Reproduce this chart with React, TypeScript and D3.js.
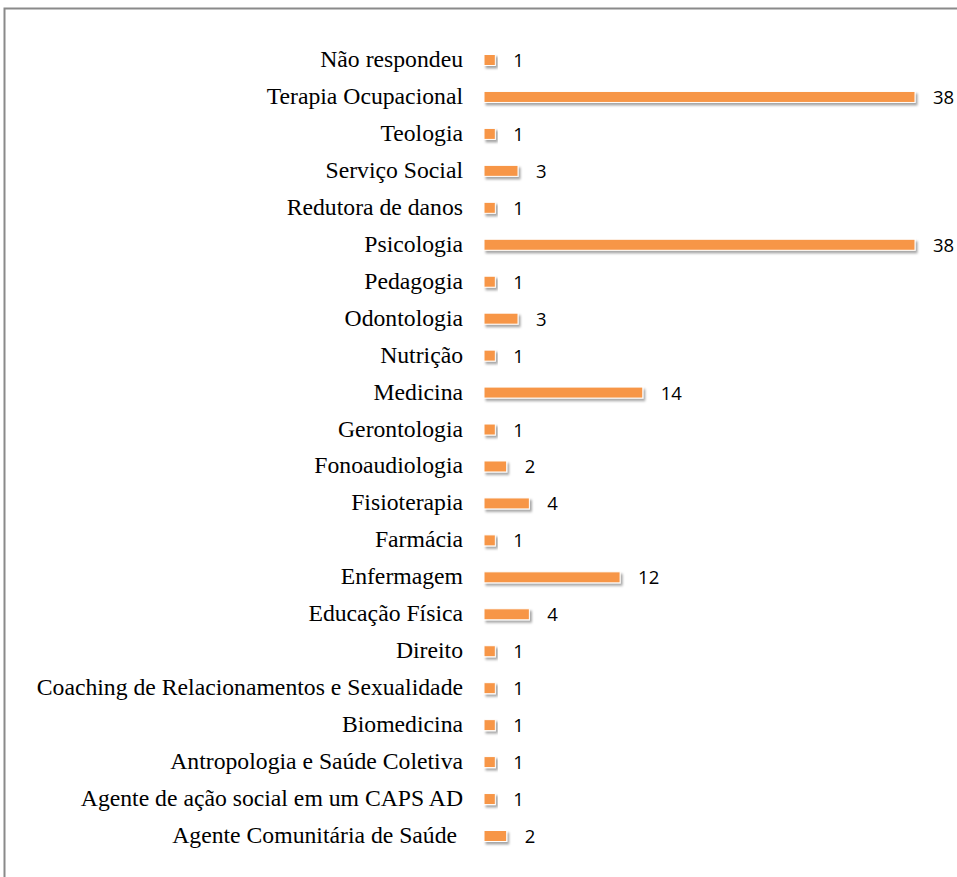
import React from "react";
import * as d3 from "d3";

const categories = [
  "Não respondeu",
  "Terapia Ocupacional",
  "Teologia",
  "Serviço Social",
  "Redutora de danos",
  "Psicologia",
  "Pedagogia",
  "Odontologia",
  "Nutrição",
  "Medicina",
  "Gerontologia",
  "Fonoaudiologia",
  "Fisioterapia",
  "Farmácia",
  "Enfermagem",
  "Educação Física",
  "Direito",
  "Coaching de Relacionamentos e Sexualidade",
  "Biomedicina",
  "Antropologia e Saúde Coletiva",
  "Agente de ação social em um CAPS AD",
  "Agente Comunitária de Saúde ",
];

const values = [1, 38, 1, 3, 1, 38, 1, 3, 1, 14, 1, 2, 4, 1, 12, 4, 1, 1, 1, 1, 1, 2];

const W = 957;
const H = 877;

export default function App() {
  const x = d3.scaleLinear().domain([0, 38]).range([484, 915]);
  const y = d3.scalePoint<string>().domain(categories).range([60, 836]);
  const barH = 11;

  return (
    <svg
      width={W}
      height={H}
      style={{ position: "absolute", left: 0, top: 0, background: "#fff" }}
    >
      <defs>
        <filter id="sh" x="-20%" y="-50%" width="140%" height="250%">
          <feDropShadow dx="2" dy="2.5" stdDeviation="1.2" floodColor="#000" floodOpacity="0.35" />
        </filter>
      </defs>
      <rect x={4.5} y={8.5} width={W + 10} height={H + 10} fill="#fff" stroke="#8a8a8a" strokeWidth={2} />
      {categories.map((c, i) => {
        const cy = y(c)!;
        const x0 = x(0);
        const x1 = x(values[i]);
        return (
          <g key={c}>
            <text
              x={463}
              y={cy + 7}
              textAnchor="end"
              style={{ whiteSpace: "pre" }}
              fontFamily="'Liberation Serif', 'Times New Roman', serif"
              fontSize={23.7}
              fill="#000"
            >
              {c}
            </text>
            <rect
              x={x0}
              y={cy - barH / 2}
              width={x1 - x0}
              height={barH}
              fill="#F79646"
              stroke="#fff"
              strokeWidth={1}
              filter="url(#sh)"
            />
            <text
              x={x1 + 18}
              y={cy + 7}
              textAnchor="start"
              fontFamily="'Open Sans', 'Liberation Sans', sans-serif"
              fontSize={18.5}
              fill="#000"
            >
              {values[i]}
            </text>
          </g>
        );
      })}
    </svg>
  );
}
